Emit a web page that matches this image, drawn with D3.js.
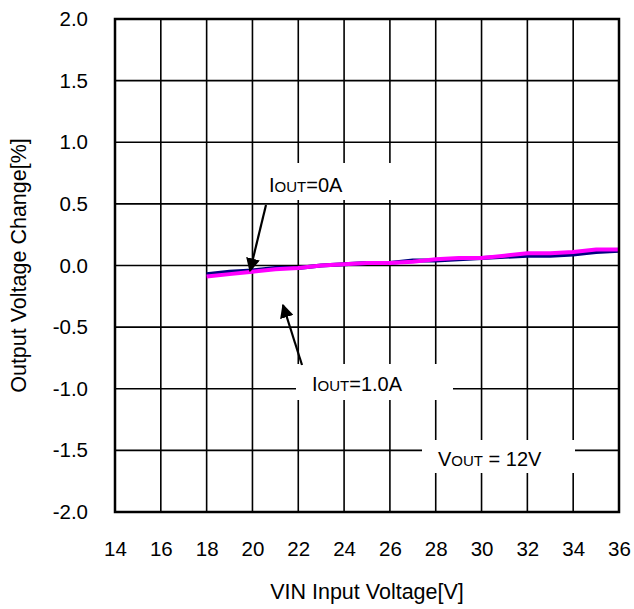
<!DOCTYPE html>
<html><head><meta charset="utf-8">
<script src="https://cdn.jsdelivr.net/npm/d3@7"></script>
<style>body{margin:0;background:#fff}text{font-family:"Liberation Sans",Arial,sans-serif;fill:#000}</style>
</head><body>
<svg id="c" width="634" height="609"></svg>
<script>
const vin = [18,19,20,21,22,23,24,25,26,27,28,29,30,31,32,33,34,35,36];
const iout0 = [-0.07,-0.05,-0.04,-0.02,-0.02,0.00,0.01,0.02,0.02,0.04,0.04,0.05,0.06,0.07,0.08,0.08,0.09,0.11,0.12];
const iout1 = [-0.09,-0.07,-0.05,-0.03,-0.02,0.00,0.01,0.02,0.02,0.03,0.05,0.06,0.06,0.08,0.10,0.10,0.11,0.13,0.13];
const xTicks = [14,16,18,20,22,24,26,28,30,32,34,36];
const yTicks = [-2.0,-1.5,-1.0,-0.5,0.0,0.5,1.0,1.5,2.0];

const svg = d3.select("#c");
const L=115,R=619,T=19,B=512;
const x = d3.scaleLinear().domain([14,36]).range([L,R]);
const y = d3.scaleLinear().domain([-2,2]).range([B,T]);

const g = svg.append("g");
g.selectAll(".vg").data(xTicks).join("line")
 .attr("x1",d=>x(d)).attr("x2",d=>x(d)).attr("y1",T).attr("y2",B)
 .attr("stroke","#000").attr("stroke-width",1.6);
g.selectAll(".hg").data(yTicks).join("line")
 .attr("y1",d=>y(d)).attr("y2",d=>y(d)).attr("x1",L).attr("x2",R)
 .attr("stroke","#000").attr("stroke-width",1.6);

const xa = svg.append("g").attr("transform",`translate(0,${B})`)
 .call(d3.axisBottom(x).tickValues(xTicks).tickSize(0).tickPadding(29).tickFormat(d3.format("d")));
const ya = svg.append("g").attr("transform",`translate(${L},0)`)
 .call(d3.axisLeft(y).tickValues(yTicks).tickSize(0).tickPadding(27).tickFormat(d=>d3.format(".1f")(d).replace("−","-")));
[xa,ya].forEach(a=>{a.select(".domain").remove();a.selectAll("text").attr("font-size",20.5).attr("font-family","Liberation Sans, Arial, sans-serif").attr("fill","#000");});

const line = d3.line().x((d,i)=>x(vin[i])).y(d=>y(d));
svg.append("path").datum(iout0).attr("d",line).attr("fill","none").attr("stroke","#000080").attr("stroke-width",4);
svg.append("path").datum(iout1).attr("d",line).attr("fill","none").attr("stroke","#ff00ff").attr("stroke-width",4);

svg.append("rect").attr("x",L).attr("y",T).attr("width",R-L).attr("height",B-T)
 .attr("fill","none").attr("stroke","#000").attr("stroke-width",2.5);

function label(bx,by,bw,bh,tx,ty,parts){
  svg.append("rect").attr("x",bx).attr("y",by).attr("width",bw).attr("height",bh).attr("fill","#fff");
  const t = svg.append("text").attr("x",tx).attr("y",ty);
  parts.forEach(p=>t.append("tspan").attr("font-size",p[1]).text(p[0]));
}
label(254,163,146,37,269,192,[["I",20],["OUT",15],["=0A",20]]);
label(296,364,157,36,312,391,[["I",20],["OUT",15],["=1.0A",20]]);
label(422,440,153,33,438,466,[["V",20],["OUT",15],[" = 12V",20]]);

svg.append("defs").append("marker").attr("id","ah").attr("viewBox","0 0 10 10")
 .attr("refX",9).attr("refY",5).attr("orient","auto")
 .attr("markerUnits","userSpaceOnUse").attr("markerWidth",14).attr("markerHeight",14)
 .append("path").attr("d","M0,0 L10,5 L0,10 z").attr("fill","#000");
svg.append("line").attr("x1",266).attr("y1",205).attr("x2",250).attr("y2",271)
 .attr("stroke","#000").attr("stroke-width",2.2).attr("marker-end","url(#ah)");
svg.append("line").attr("x1",302).attr("y1",365).attr("x2",283).attr("y2",305)
 .attr("stroke","#000").attr("stroke-width",2.2).attr("marker-end","url(#ah)");

svg.append("text").attr("x",367).attr("y",599).attr("text-anchor","middle").attr("font-size",21.5).text("VIN Input Voltage[V]");
svg.append("text").attr("transform",`translate(26,${(T+B)/2}) rotate(-90)`).attr("text-anchor","middle").attr("font-size",21.5).text("Output Voltage Change[%]");
</script>
</body></html>
